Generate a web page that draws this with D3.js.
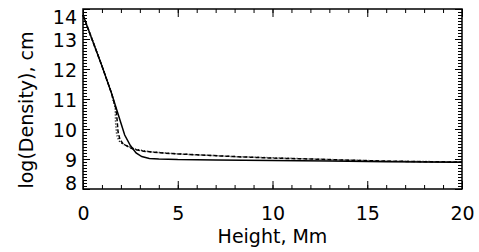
<!DOCTYPE html>
<html>
<head>
<meta charset="utf-8">
<script src="https://cdn.jsdelivr.net/npm/d3@7"></script>
<style>
  body { margin: 0; background: #fff; }
  svg { display: block; font-family: "DejaVu Sans", sans-serif; }
</style>
</head>
<body>
<svg id="chart"></svg>
<script>
// values
const solidHeight = [0, 0.5, 1.0, 1.5, 1.8, 2.0, 2.2, 2.5, 2.8, 3.1, 3.5, 4, 5, 7, 10, 13, 16, 18, 19.7, 20];
const solidDensity = [13.8, 12.95, 12.1, 11.2, 10.6, 10.2, 9.8, 9.45, 9.2, 9.08, 9.02, 9.0, 8.98, 8.97, 8.95, 8.93, 8.91, 8.9, 8.89, 8.9];

const dashHeight = [0, 0.5, 1.0, 1.5, 1.75, 1.8, 1.85, 1.95, 2.1, 2.4, 2.7, 3.2, 4, 5, 6, 8, 10, 12, 14, 16, 18, 20];
const dashDensity = [13.8, 12.95, 12.1, 11.2, 10.65, 10.3, 9.9, 9.65, 9.52, 9.4, 9.32, 9.26, 9.21, 9.17, 9.14, 9.08, 9.03, 9.0, 8.96, 8.93, 8.91, 8.9];

const dotHeight = [0, 0.5, 1.0, 1.5, 1.7, 1.72, 1.78, 1.9, 2.1, 2.4, 2.8, 3.5, 5, 8, 12, 16, 20];
const dotDensity = [13.8, 12.95, 12.1, 11.2, 10.7, 10.2, 9.8, 9.6, 9.5, 9.42, 9.32, 9.24, 9.17, 9.08, 9.0, 8.93, 8.9];

const xTicks = [0, 5, 10, 15, 20];
const yTicks = [8, 9, 10, 11, 12, 13, 14];

const width = 479;
const height = 252;
const margin = { top: 9, right: 17, bottom: 63, left: 83 };

const svg = d3.select("#chart")
  .attr("width", width)
  .attr("height", height);

const x = d3.scaleLinear().domain([0, 20]).range([margin.left, width - margin.right]);
const y = d3.scaleLinear().domain([8, 14]).range([height - margin.bottom, margin.top]);

const x0 = margin.left, x1 = width - margin.right;
const y0 = height - margin.bottom, y1 = margin.top;

// minor ticks
const xMinor = d3.range(0, 20.001, 1);
const yMinor = d3.range(8, 14.001, 0.1);

function styleAxis(g) {
  g.select(".domain").remove();
  g.selectAll("line").attr("stroke", "#000").attr("stroke-width", 1);
  g.selectAll("text").attr("fill", "#000").attr("font-size", "19px").attr("font-family", "DejaVu Sans, sans-serif");
}

// bottom
svg.append("g").attr("transform", `translate(0,${y0})`)
  .call(d3.axisBottom(x).tickValues(xMinor).tickSize(-4).tickFormat(""))
  .call(styleAxis);
svg.append("g").attr("transform", `translate(0,${y0})`)
  .call(d3.axisBottom(x).tickValues(xTicks).tickSize(-8).tickPadding(18).tickFormat(d3.format("d")))
  .call(styleAxis);
// top
svg.append("g").attr("transform", `translate(0,${y1})`)
  .call(d3.axisTop(x).tickValues(xMinor).tickSize(-4).tickFormat(""))
  .call(styleAxis);
svg.append("g").attr("transform", `translate(0,${y1})`)
  .call(d3.axisTop(x).tickValues(xTicks).tickSize(-8).tickFormat(""))
  .call(styleAxis);

// left
svg.append("g").attr("transform", `translate(${x0},0)`)
  .call(d3.axisLeft(y).tickValues(yMinor).tickSize(-4).tickFormat(""))
  .call(styleAxis);
const yAxis = svg.append("g").attr("transform", `translate(${x0},0)`)
  .call(d3.axisLeft(y).tickValues(yTicks).tickSize(-7).tickPadding(6).tickFormat(d3.format("d")))
  .call(styleAxis);
// keep end labels inside the frame height
yAxis.selectAll(".tick text")
  .attr("dy", d => d === 14 ? "0.74em" : d === 8 ? "0em" : "0.38em");

// right
svg.append("g").attr("transform", `translate(${x1},0)`)
  .call(d3.axisRight(y).tickValues(yMinor).tickSize(-4).tickFormat(""))
  .call(styleAxis);
svg.append("g").attr("transform", `translate(${x1},0)`)
  .call(d3.axisRight(y).tickValues(yTicks).tickSize(-7).tickFormat(""))
  .call(styleAxis);

// frame
svg.append("rect")
  .attr("x", x0).attr("y", y1)
  .attr("width", x1 - x0).attr("height", y0 - y1)
  .attr("fill", "none").attr("stroke", "#000").attr("stroke-width", 1.5);

const line = d3.line().x(d => x(d[0])).y(d => y(d[1]));

const series = [
  { h: dotHeight, v: dotDensity, dash: "1,2" },
  { h: dashHeight, v: dashDensity, dash: "4,2" },
  { h: solidHeight, v: solidDensity, dash: null }
];

svg.append("g")
  .selectAll("path")
  .data(series)
  .join("path")
  .attr("d", s => line(s.h.map((h, i) => [h, s.v[i]])))
  .attr("fill", "none")
  .attr("stroke", "#000")
  .attr("stroke-width", 1.5)
  .attr("stroke-dasharray", s => s.dash);

// axis titles
svg.append("text")
  .attr("x", (x0 + x1) / 2)
  .attr("y", 243)
  .attr("text-anchor", "middle")
  .attr("font-size", "19px")
  .text("Height, Mm");

svg.append("text")
  .attr("transform", "translate(33,110) rotate(-90)")
  .attr("text-anchor", "middle")
  .attr("font-size", "19px")
  .text("log(Density), cm");
</script>
</body>
</html>
